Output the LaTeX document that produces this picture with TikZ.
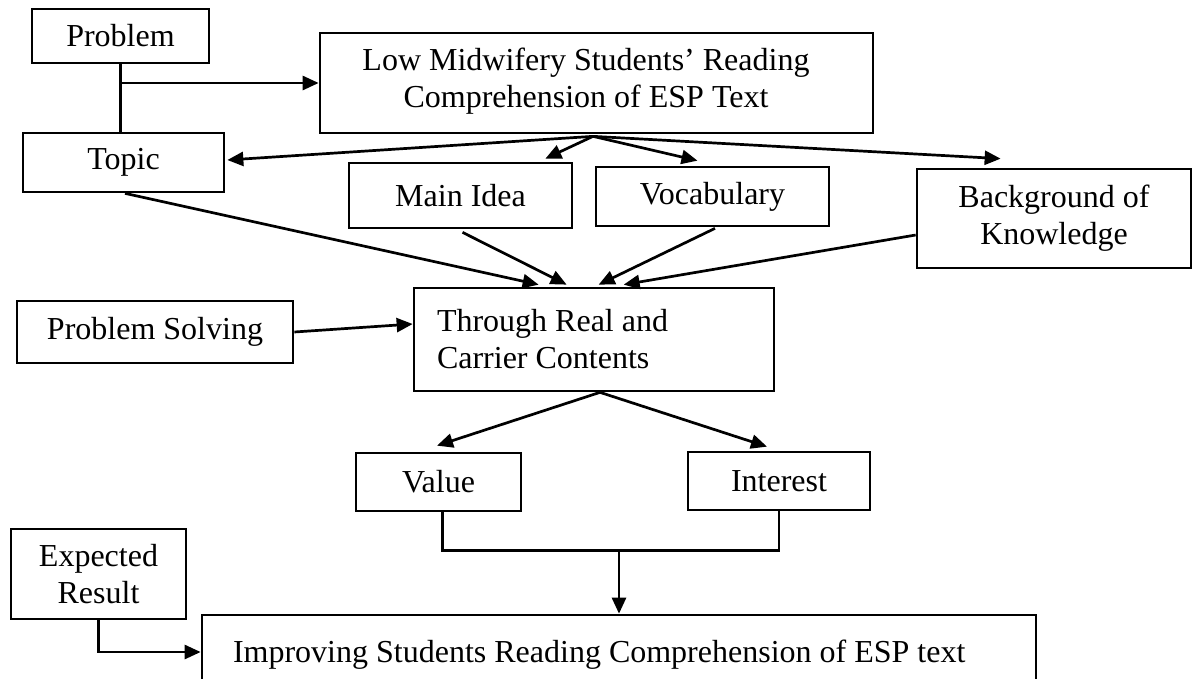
\documentclass[tikz,border=0pt]{standalone}
\usepackage{fontspec}
\setmainfont{Liberation Serif}
\usetikzlibrary{arrows.meta,calc}
\begin{document}
\begin{tikzpicture}[x=1pt,y=1pt,
  box/.style={draw,line width=2.7pt,inner sep=0pt,align=center,font=\fontsize{32}{37}\selectfont},
  txt/.style={inner sep=0pt,align=center,font=\fontsize{32}{37}\selectfont},
  arr/.style={line width=2.7pt,-{Triangle[length=16pt,width=14pt]}},
  ln/.style={line width=2.7pt}]
\path[use as bounding box] (0,0) rectangle (1193,-678);
\clip (0,0) rectangle (1193,-678);

\node[box,minimum width=177pt,minimum height=54pt] (prob) at (120.5,-36) {Problem};
\node[box,minimum width=553pt,minimum height=100pt] (low) at (596.5,-83) {};
\node[txt] (lowtxt) at (586,-81.5) {Low Midwifery Students' Reading\\Comprehension of ESP Text};
\node[box,minimum width=201pt,minimum height=59pt] (topic) at (123.5,-162.5) {Topic};
\node[box,minimum width=223pt,minimum height=65pt] (mi) at (460.5,-195.5) {Main Idea};
\node[box,minimum width=233pt,minimum height=59pt] (voc) at (712.5,-196.5) {Vocabulary};
\node[box,minimum width=274pt,minimum height=99pt] (bg) at (1054,-218.5) {Background of\\Knowledge};
\node[box,minimum width=276pt,minimum height=62pt] (ps) at (155,-332) {Problem Solving};
\node[box,minimum width=360pt,minimum height=103pt,align=flush left,text width=314pt,inner xsep=23pt] (thr) at (594,-339.5) {Through Real and\\Carrier Contents};
\node[box,minimum width=165pt,minimum height=58pt] (val) at (438.5,-482) {Value};
\node[box,minimum width=182pt,minimum height=58pt] (int) at (779,-481) {Interest};
\node[box,minimum width=175pt,minimum height=90pt] (exp) at (98.5,-574) {Expected\\Result};
\node[box,minimum width=834pt,minimum height=80pt,align=flush left,text width=772pt,inner xsep=31pt] (imp) at (619,-655) {Improving Students Reading Comprehension of ESP text};

% Problem connectors
\draw[ln] (prob.south) -- (prob.south |- topic.north);
\draw[arr] (prob.south |- low.west) -- (low.west);

% From Low
\coordinate (lowsrc) at ($(low.south)+(-3.5,-2)$);
\draw[arr] (lowsrc) -- ($(topic.east)+(2,2.5)$);
\draw[arr] (lowsrc) -- ($(mi.north east)+(-28,3)$);
\draw[arr] (lowsrc) -- ($(voc.north)+(-15,5)$);
\draw[arr] (lowsrc) -- ($(bg.north west)+(85,9)$);

% Into Through
\draw[arr] ($(topic.south)+(1.5,0)$) -- ($(thr.north west)+(126,2)$);
\draw[arr] ($(mi.south)+(2,-3)$) -- ($(thr.north west)+(154,2)$);
\draw[arr] ($(voc.south)+(2.5,-1)$) -- ($(thr.north west)+(186,2)$);
\draw[arr] ($(bg.west)+(0,-16.5)$) -- ($(thr.north west)+(211,2)$);
\draw[arr] (ps.east) -- ($(thr.west)+(0,15.5)$);

% From Through
\coordinate (thrsrc) at ($(thr.south)+(6,0)$);
\draw[arr] (thrsrc) -- ($(val.north)+(-1.5,6)$);
\draw[arr] (thrsrc) -- ($(int.north)+(-12,4)$);

% Value / Interest join
\coordinate (join) at ($(imp.north)+(0,63.5)$);
\draw[ln] ($(val.south)+(4,0)$) |- (join) -| (int.south);
\draw[arr] (join) -- (imp.north);

% Expected result
\draw[arr] (exp.south) |- ($(imp.west)+(0,3)$);
\end{tikzpicture}
\end{document}
